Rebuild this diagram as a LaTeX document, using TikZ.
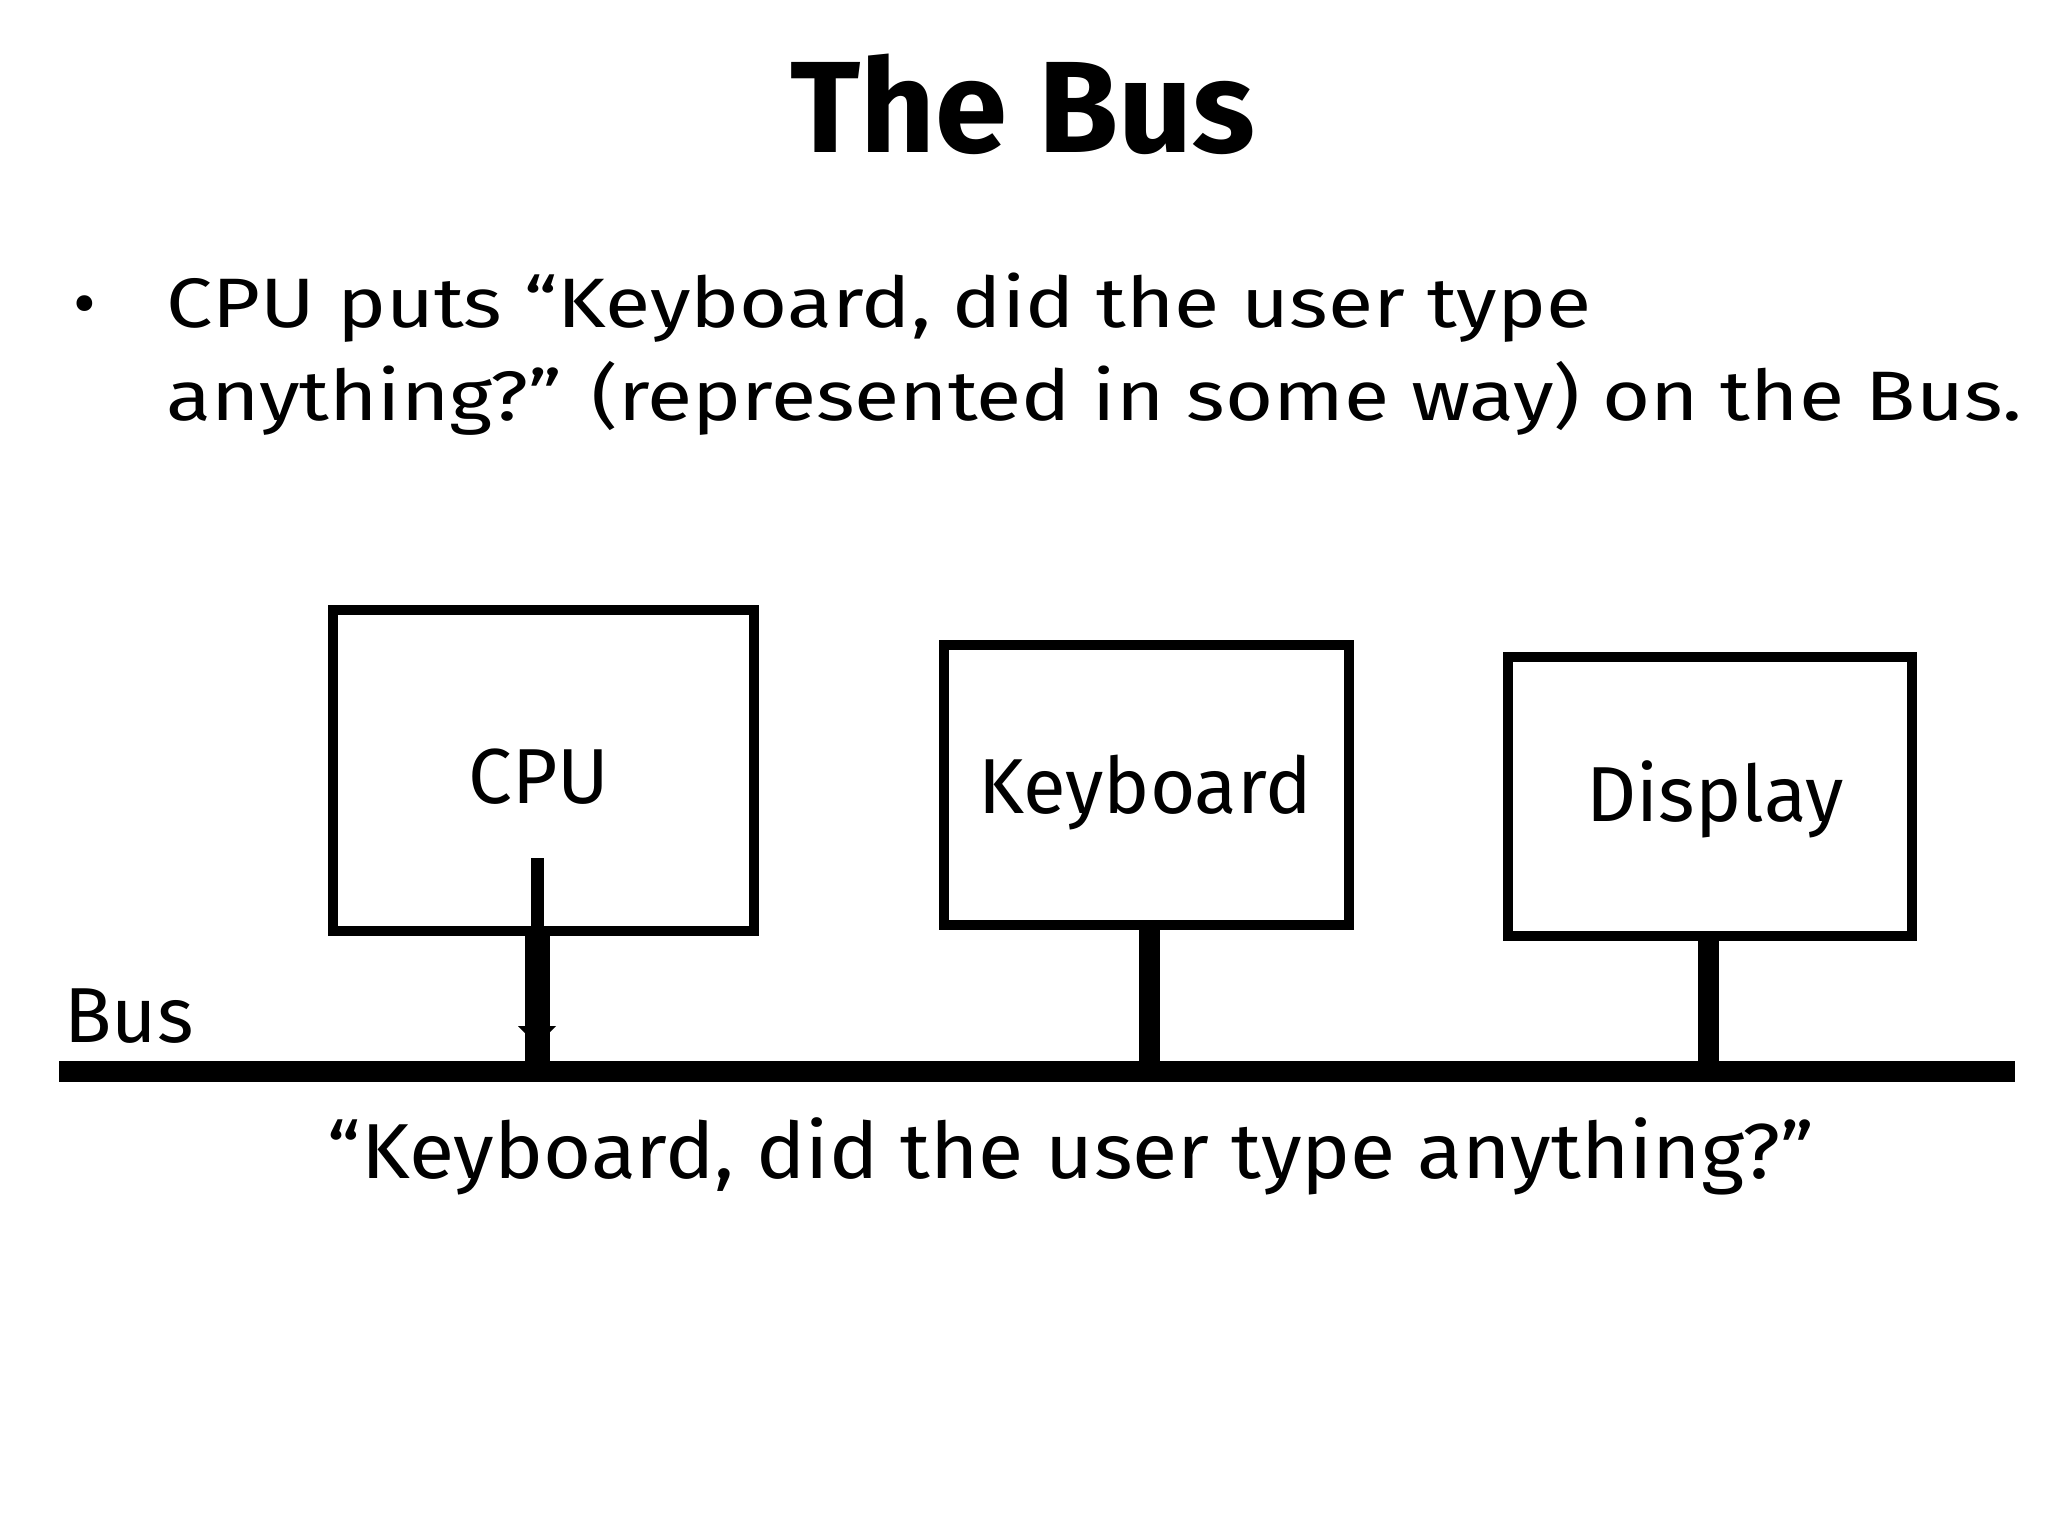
\documentclass[tikz,border=0pt]{standalone}
\usepackage{fontspec}
\setmainfont{Fira Sans}
\newfontfamily\widefont[FakeStretch=1.18]{Fira Sans}
\newfontfamily\capfont[FakeStretch=1.06]{Fira Sans}
\begin{document}
\begin{tikzpicture}[x=1pt,y=-1pt,
  box/.style={draw,line width=10pt,inner sep=0pt},
  lbl/.style={font=\fontsize{78}{90}\selectfont},
  bt/.style={anchor=base west,font=\widefont\fontsize{70}{80}\selectfont,inner sep=0pt},
  stem/.style={line width=21pt}]
\useasboundingbox (0,0) rectangle (2048,1536);
\node[font=\fontsize{130}{150}\selectfont\bfseries] (title) at (1023,104) {The Bus};
\node[anchor=base west,font=\fontsize{70}{80}\selectfont] (bul) at (70,327) {•};
\node[bt] (l1) at (166,327) {CPU puts “Keyboard, did the user type};
\node[bt] (l2) at (166,420) {anything?” (represented in some way) on the Bus.};
\node[box,minimum width=421pt,minimum height=321pt] (cpu) at (543.5,770.5) {};
\node[box,minimum width=405pt,minimum height=280pt] (kbd) at (1146.5,785) {};
\node[box,minimum width=404pt,minimum height=279pt] (dsp) at (1710,796.5) {};
\node[lbl] (cpul) at (539,777) {CPU};
\node[lbl] (kbdl) at (1145,793) {Keyboard};
\node[lbl] (dspl) at (1715,799) {Display};
\coordinate (b1) at (59,1071);
\coordinate (b2) at (2015,1071);
\draw[line width=21pt] (b1) -- (b2);
\coordinate (ks) at (1149,930);
\coordinate (kb) at (1149,1071);
\coordinate (ds) at (1708,941);
\coordinate (db) at (1708,1071);
\draw[stem] (ks) -- (kb);
\draw[stem] (ds) -- (db);
\coordinate (c0) at (537,858);
\coordinate (c1) at (537,931);
\coordinate (c2) at (537,1062);
\draw[line width=13pt] (c0) -- (c1);
\draw[line width=25pt] (c1) -- (c2);
\coordinate (ah) at (537,1045);
\fill (518,1026) -- (556,1026) -- (ah) -- cycle;
\node[lbl,anchor=base west,inner sep=0pt] (busl) at (64,1042) {Bus};
\node[lbl,font=\capfont\fontsize{78}{90}\selectfont] (cap) at (1071,1156) {“Keyboard, did the user type anything?”};
\end{tikzpicture}
\end{document}
